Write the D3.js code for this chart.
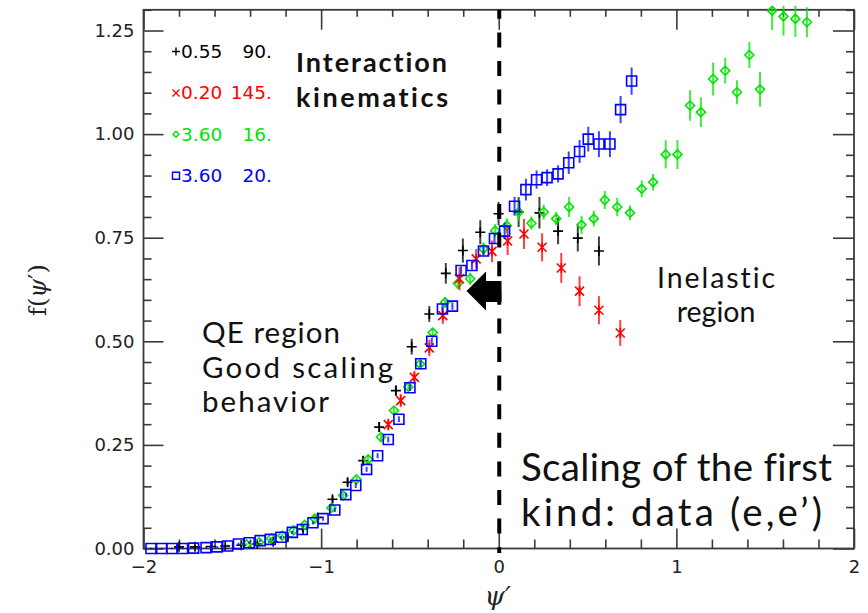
<!DOCTYPE html>
<html>
<head>
<meta charset="utf-8">
<script src="https://cdn.jsdelivr.net/npm/d3@7"></script>
<style>
  html, body { margin: 0; padding: 0; background: #fff; }
  svg { display: block; }
  text { font-variant-ligatures: none; }
</style>
</head>
<body>
<svg id="chart" width="868" height="613"></svg>
<script>
// ---- Scaling function f(psi') for four (E, theta) kinematics ----
// legend: beam energy (GeV) and scattering angle (deg)
const legendEnergy = ["0.55", "0.20", "3.60", "3.60"];
const legendAngle  = ["90.", "145.", "16.", "20."];
const seriesColors = ["#000000", "#ff0000", "#00e400", "#0000ff"];

// E = 0.55, theta = 90 (black plus)
const blackPsi = [-1.80, -1.71, -1.62, -1.54, -1.45, -1.36, -1.27, -1.187, -1.102, -1.02, -0.936, -0.851, -0.763, -0.673, -0.579, -0.490, -0.391, -0.298, -0.202, -0.104, -0.001, 0.112, 0.229, 0.334, 0.445, 0.564];
const blackF   = [0.004, 0.004, 0.005, 0.006, 0.008, 0.011, 0.016, 0.027, 0.047, 0.075, 0.119, 0.160, 0.212, 0.293, 0.381, 0.487, 0.566, 0.664, 0.719, 0.763, 0.808, 0.812, 0.810, 0.766, 0.749, 0.718];
const blackErr = [0.003, 0.003, 0.003, 0.003, 0.004, 0.004, 0.005, 0.006, 0.007, 0.008, 0.008, 0.009, 0.011, 0.012, 0.012, 0.019, 0.019, 0.025, 0.029, 0.029, 0.028, 0.036, 0.038, 0.032, 0.032, 0.035];

// E = 0.20, theta = 145 (red cross)
const redPsi = [-0.622, -0.552, -0.475, -0.391, -0.315, -0.221, -0.127, -0.038, 0.050, 0.142, 0.244, 0.352, 0.455, 0.564, 0.684];
const redF   = [0.299, 0.357, 0.413, 0.484, 0.562, 0.651, 0.699, 0.717, 0.742, 0.759, 0.727, 0.677, 0.621, 0.575, 0.520];
const redErr = [0.014, 0.016, 0.016, 0.020, 0.020, 0.028, 0.024, 0.026, 0.034, 0.036, 0.034, 0.036, 0.036, 0.034, 0.031];

// E = 3.60, theta = 16 (green diamond)
const greenPsi = [-1.42, -1.35, -1.281, -1.219, -1.155, -1.093, -1.036, -0.942, -0.876, -0.801, -0.735, -0.663, -0.590, -0.509, -0.443, -0.372, -0.302, -0.230, -0.161, -0.086, -0.020, 0.046, 0.112, 0.184, 0.253, 0.323, 0.396, 0.466, 0.535, 0.597, 0.667, 0.739, 0.805, 0.869, 0.940, 1.006, 1.077, 1.138, 1.207, 1.275, 1.341, 1.411, 1.471, 1.539, 1.603, 1.670, 1.735];
const greenF   = [0.010, 0.015, 0.024, 0.031, 0.044, 0.057, 0.072, 0.098, 0.128, 0.167, 0.215, 0.269, 0.333, 0.390, 0.445, 0.521, 0.594, 0.640, 0.651, 0.723, 0.767, 0.779, 0.812, 0.785, 0.812, 0.796, 0.824, 0.781, 0.796, 0.841, 0.824, 0.810, 0.868, 0.884, 0.951, 0.951, 1.069, 1.053, 1.133, 1.153, 1.101, 1.191, 1.108, 1.298, 1.284, 1.278, 1.270];
const greenErr = [0.003, 0.003, 0.004, 0.004, 0.005, 0.005, 0.006, 0.006, 0.007, 0.007, 0.008, 0.008, 0.009, 0.009, 0.010, 0.011, 0.013, 0.014, 0.015, 0.016, 0.016, 0.018, 0.023, 0.016, 0.018, 0.016, 0.024, 0.022, 0.019, 0.022, 0.022, 0.018, 0.020, 0.020, 0.034, 0.035, 0.037, 0.036, 0.040, 0.031, 0.029, 0.031, 0.042, 0.047, 0.046, 0.043, 0.036];

// E = 3.60, theta = 20 (blue square)
const bluePsi = [-1.958, -1.898, -1.840, -1.780, -1.718, -1.648, -1.586, -1.526, -1.465, -1.405, -1.343, -1.286, -1.226, -1.162, -1.106, -1.046, -0.989, -0.923, -0.861, -0.805, -0.744, -0.682, -0.622, -0.562, -0.500, -0.439, -0.377, -0.317, -0.261, -0.212, -0.151, -0.086, -0.024, 0.033, 0.089, 0.153, 0.213, 0.272, 0.334, 0.394, 0.455, 0.504, 0.564, 0.626, 0.686, 0.748];
const blueF   = [0.000, 0.000, 0.000, 0.000, 0.001, 0.002, 0.004, 0.006, 0.011, 0.014, 0.019, 0.022, 0.027, 0.039, 0.046, 0.062, 0.072, 0.093, 0.130, 0.152, 0.191, 0.224, 0.263, 0.312, 0.388, 0.446, 0.500, 0.578, 0.585, 0.671, 0.683, 0.718, 0.748, 0.766, 0.826, 0.866, 0.890, 0.895, 0.904, 0.931, 0.958, 0.988, 0.976, 0.976, 1.059, 1.128];
const blueErr = [0.002, 0.002, 0.002, 0.002, 0.002, 0.002, 0.002, 0.003, 0.003, 0.003, 0.003, 0.003, 0.004, 0.004, 0.004, 0.004, 0.005, 0.005, 0.005, 0.006, 0.006, 0.006, 0.007, 0.007, 0.008, 0.008, 0.008, 0.009, 0.009, 0.010, 0.010, 0.011, 0.012, 0.020, 0.023, 0.026, 0.022, 0.020, 0.021, 0.027, 0.028, 0.030, 0.031, 0.031, 0.033, 0.033];

// axis ticks
const xMajorTicks = [-2, -1, 0, 1, 2];
const xTickLabels = ["\u22122", "\u22121", "0", "1", "2"];
const yMajorTicks = [0, 0.25, 0.5, 0.75, 1.0, 1.25];
const yTickLabels = ["0.00", "0.25", "0.50", "0.75", "1.00", "1.25"];

// ---- layout ----
const svg = d3.select("#chart");
const plot = { left: 143.5, right: 854, top: 9.8, bottom: 548.5 };

const x = d3.scaleLinear().domain([-2, 2]).range([plot.left, plot.right]);
const y = d3.scaleLinear().domain([0, 1.30]).range([plot.bottom, plot.top]);

const frameColor = "#3a3a3a";
const tickFont = "'DejaVu Sans', sans-serif";

// minor tick positions
const xMinor = d3.range(-2, 2.0001, 0.2).map(v => +v.toFixed(2)).filter(v => Math.abs(v - Math.round(v)) > 1e-6);
const yMinor = d3.range(0, 1.3001, 0.05).map(v => +v.toFixed(2)).filter(v => Math.abs(v * 4 - Math.round(v * 4)) > 1e-6);

function styleAxis(g) {
  g.select(".domain").remove();
  g.selectAll(".tick line").attr("stroke", frameColor).attr("stroke-width", 1.6);
  g.selectAll(".tick text").attr("fill", "#222").attr("font-family", tickFont).attr("font-size", 18);
}

// bottom axis: labels + inward ticks
svg.append("g").attr("transform", `translate(0,${plot.bottom})`)
  .call(d3.axisBottom(x).tickValues(xMajorTicks).tickSize(-20).tickSizeOuter(0).tickPadding(12)
    .tickFormat((d, i) => xTickLabels[i]))
  .call(styleAxis);
svg.append("g").attr("transform", `translate(0,${plot.bottom})`)
  .call(d3.axisBottom(x).tickValues(xMinor).tickSize(-9).tickSizeOuter(0).tickFormat(""))
  .call(styleAxis);
// top axis: ticks only
svg.append("g").attr("transform", `translate(0,${plot.top})`)
  .call(d3.axisTop(x).tickValues(xMajorTicks).tickSize(-20).tickSizeOuter(0).tickFormat(""))
  .call(styleAxis);
svg.append("g").attr("transform", `translate(0,${plot.top})`)
  .call(d3.axisTop(x).tickValues(xMinor).tickSize(-7).tickSizeOuter(0).tickFormat(""))
  .call(styleAxis);
// left axis: labels + inward ticks
svg.append("g").attr("transform", `translate(${plot.left},0)`)
  .call(d3.axisLeft(y).tickValues(yMajorTicks).tickSize(-20).tickSizeOuter(0).tickPadding(9)
    .tickFormat((d, i) => yTickLabels[i]))
  .call(styleAxis);
svg.append("g").attr("transform", `translate(${plot.left},0)`)
  .call(d3.axisLeft(y).tickValues(yMinor).tickSize(-8).tickSizeOuter(0).tickFormat(""))
  .call(styleAxis);
// right axis: ticks only
svg.append("g").attr("transform", `translate(${plot.right},0)`)
  .call(d3.axisRight(y).tickValues(yMajorTicks).tickSize(-21).tickSizeOuter(0).tickFormat(""))
  .call(styleAxis);
svg.append("g").attr("transform", `translate(${plot.right},0)`)
  .call(d3.axisRight(y).tickValues(yMinor).tickSize(-8).tickSizeOuter(0).tickFormat(""))
  .call(styleAxis);

// frame
svg.append("rect")
  .attr("x", plot.left).attr("y", plot.top)
  .attr("width", plot.right - plot.left).attr("height", plot.bottom - plot.top)
  .attr("fill", "none").attr("stroke", frameColor).attr("stroke-width", 1.8);

// axis titles
svg.append("text")
  .attr("transform", "translate(46,290) rotate(-90)")
  .attr("text-anchor", "middle")
  .attr("font-family", "'DejaVu Serif', 'Liberation Serif', serif")
  .attr("font-size", 24).attr("fill", "#222")
  .html("f(<tspan font-style='italic'>\u03C8</tspan>\u2032)");
svg.append("text")
  .attr("x", x(0) - 1).attr("y", 605)
  .attr("text-anchor", "middle")
  .attr("font-family", "'DejaVu Serif', 'Liberation Serif', serif")
  .attr("font-style", "italic")
  .attr("font-size", 26).attr("fill", "#222")
  .text("\u03C8\u2032");

// ---- data ----
// markers may overhang the frame slightly, as in the plotting package
svg.append("clipPath").attr("id", "plotClip")
  .append("rect")
  .attr("x", plot.left).attr("y", plot.top - 4)
  .attr("width", plot.right - plot.left).attr("height", plot.bottom - plot.top + 11);

const dataLayer = svg.append("g").attr("clip-path", "url(#plotClip)");

const markerPaths = {
  plus:    r => `M${-r},0H${r}M0,${-r}V${r}`,
  times:   r => `M${-r},${-r}L${r},${r}M${-r},${r}L${r},${-r}M0,${-r * 1.1}V${r * 1.1}`,
  diamond: r => `M0,${-r}L${r},0L0,${r}L${-r},0Z`,
  square:  r => `M${-r},${-r}H${r}V${r}H${-r}Z`
};

function drawSeries(psi, f, err, color, kind, r) {
  const pts = psi.map((p, i) => ({ p, v: f[i], e: err[i] }));
  const g = dataLayer.append("g");
  // error bars
  g.selectAll("line.err").data(pts).join("line")
    .attr("class", "err")
    .attr("x1", d => x(d.p)).attr("x2", d => x(d.p))
    .attr("y1", d => y(d.v - d.e)).attr("y2", d => y(d.v + d.e))
    .attr("stroke", color).attr("stroke-width", 2).attr("stroke-opacity", 0.75);
  // markers
  g.selectAll("path.mk").data(pts).join("path")
    .attr("class", "mk")
    .attr("transform", d => `translate(${x(d.p)},${y(d.v)})`)
    .attr("d", markerPaths[kind](r))
    .attr("fill", "none").attr("stroke", color).attr("stroke-width", 1.6);
}

drawSeries(blackPsi, blackF, blackErr, seriesColors[0], "plus", 5);
drawSeries(greenPsi, greenF, greenErr, seriesColors[2], "diamond", 4.5);
drawSeries(redPsi, redF, redErr, seriesColors[1], "times", 4.5);
drawSeries(bluePsi, blueF, blueErr, seriesColors[3], "square", 5);

// ---- legend ----
const legendKinds = ["plus", "times", "diamond", "square"];
const legendSize = [4, 3.5, 3, 3.5];
const legend = svg.append("g");
legendEnergy.forEach((e, i) => {
  const cy = 51.5 + 41.4 * i;
  legend.append("path")
    .attr("transform", `translate(176,${cy})`)
    .attr("d", legendKinds[i] === "times"
      ? `M-3.5,-3.5L3.5,3.5M-3.5,3.5L3.5,-3.5`
      : markerPaths[legendKinds[i]](legendSize[i]))
    .attr("fill", "none").attr("stroke", seriesColors[i]).attr("stroke-width", 1.4);
  legend.append("text")
    .attr("x", 181).attr("y", cy + 6.5)
    .attr("font-family", tickFont).attr("font-size", 18.5)
    .attr("fill", seriesColors[i]).text(e);
  legend.append("text")
    .attr("x", 272).attr("y", cy + 6.5)
    .attr("text-anchor", "end")
    .attr("font-family", tickFont).attr("font-size", 18.5)
    .attr("fill", seriesColors[i]).text(legendAngle[i]);
});

// ---- divider at psi' = 0 and arrow ----
svg.append("line")
  .attr("x1", x(0) + 0.5).attr("x2", x(0) + 0.5)
  .attr("y1", plot.top).attr("y2", plot.bottom + 4.5)
  .attr("stroke", "#000").attr("stroke-width", 4)
  .attr("stroke-dasharray", "15,13.6").attr("stroke-dashoffset", 6);

svg.append("path")
  .attr("d", "M466.5,291 L486,271.5 L486,281 L501.5,281 L501.5,302 L486,302 L486,310.5 Z")
  .attr("fill", "#000");

// ---- annotations ----
// one font size per block; each line's span w is reached through letter spacing
const noteFont = "Lato, 'Noto Sans', sans-serif";
const noteBlocks = [
  { size: 27, bold: true, lines: [
    { t: "Interaction", x: 296, y: 72,  w: 151 },
    { t: "kinematics",  x: 296, y: 107, w: 152 } ] },
  { size: 29.5, lines: [
    { t: "QE region",    x: 202, y: 343, w: 138 },
    { t: "Good scaling", x: 202, y: 378, w: 191 },
    { t: "behavior",     x: 202, y: 412, w: 127 } ] },
  { size: 28.5, lines: [
    { t: "Inelastic", x: 657, y: 288, w: 118 },
    { t: "region",    x: 716, y: 322, anchor: "middle" } ] },
  { size: 38.5, lines: [
    { t: "Scaling of the first",   x: 521, y: 481, w: 311 },
    { t: "kind: data (e,e\u2019)", x: 521, y: 526, w: 301 } ] }
];
noteBlocks.forEach(b => {
  b.lines.forEach(n => {
    const txt = svg.append("text")
      .attr("x", n.x).attr("y", n.y)
      .attr("text-anchor", n.anchor || "start")
      .attr("font-family", noteFont)
      .attr("font-size", b.size)
      .attr("font-weight", b.bold ? 700 : 400)
      .attr("fill", "#111")
      .text(n.t);
    if (n.w) txt.attr("textLength", n.w).attr("lengthAdjust", "spacing");
  });
});
</script>
</body>
</html>
